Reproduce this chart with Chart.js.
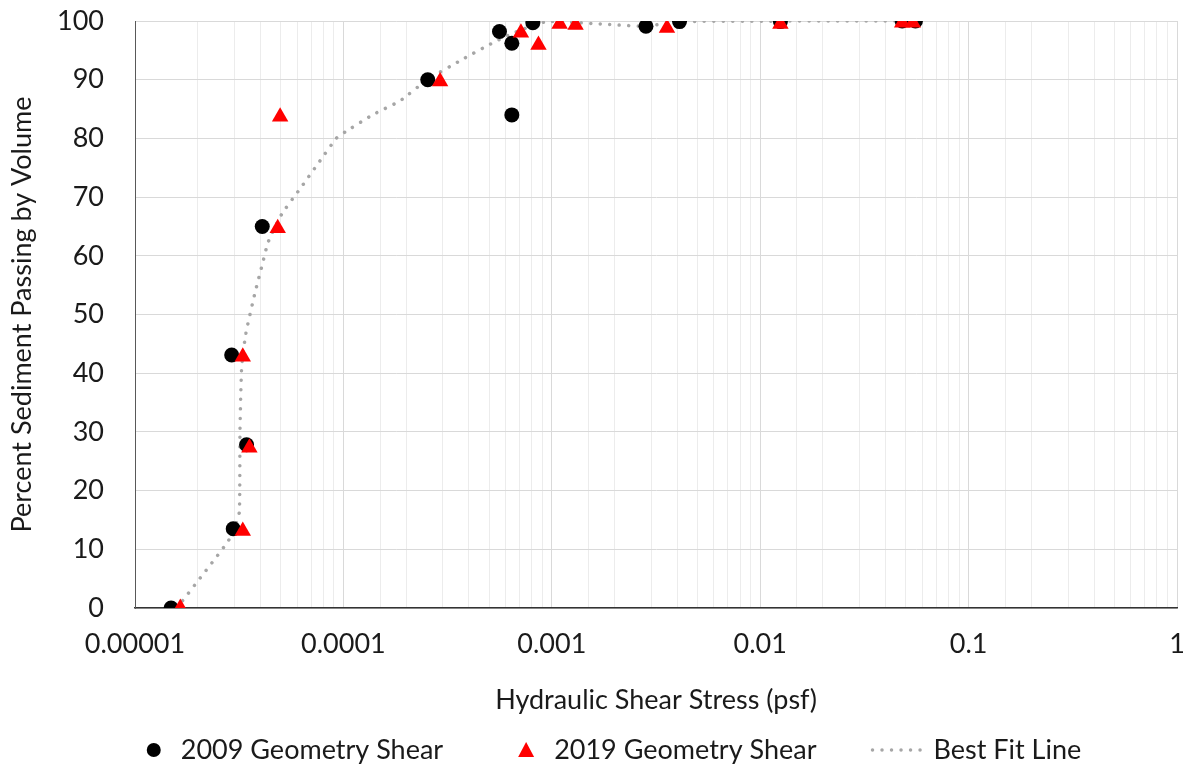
<!DOCTYPE html>
<html>
<head>
<meta charset="utf-8">
<script src="https://cdn.jsdelivr.net/npm/chart.js@4/dist/chart.umd.min.js"></script>
<style>
  html, body { margin: 0; padding: 0; background: #fff; }
</style>
</head>
<body>
<canvas id="chart" width="1188" height="767"></canvas>
<script>
// ! DATA
const xTickValues = [0.00001, 0.0001, 0.001, 0.01, 0.1, 1];
const xTickLabels = ["0.00001", "0.0001", "0.001", "0.01", "0.1", "1"];

const seriesNames = ["2009 Geometry Shear", "2019 Geometry Shear", "Best Fit Line"];

const shear2009 = [
  0.0000149, 0.0000296, 0.0000343, 0.0000291, 0.0000408, 0.000254, 0.000561,
  0.000643, 0.000643, 0.000811, 0.00283, 0.0041, 0.0125, 0.048, 0.0556,
];
const passing2009 = [
  0, 13.5, 27.8, 43.1, 65.0, 90.0, 98.2, 96.2, 84.0, 99.7, 99.1, 99.9, 99.9,
  100, 100,
];

const shear2019 = [
  0.0000165, 0.0000329, 0.0000354, 0.0000329, 0.0000484, 0.0000497, 0.000291,
  0.000711, 0.000863, 0.00109, 0.0013, 0.00357, 0.0125, 0.048, 0.054,
];
const passing2019 = [
  0, 13.1, 27.3, 42.8, 64.7, 83.7, 89.7, 98.0, 95.9, 99.5, 99.3, 98.8, 99.5,
  99.7, 99.7,
];

const fitShear = [
  0.0000159, 0.0000279, 0.0000305, 0.0000317, 0.0000319, 0.0000325, 0.000034,
  0.0000376, 0.000041, 0.0000435, 0.0000506, 0.0000619, 0.0000759, 0.0000929,
  0.000102, 0.000138, 0.000187, 0.000253, 0.00037, 0.000497, 0.000646,
  0.000946, 0.00171, 0.00283, 0.0041, 0.0556,
];
const fitPassing = [
  0, 11.3, 14.3, 16.4, 30.3, 41.1, 46.7, 53.6, 58.8, 62.3, 67.1, 71.4, 75.8,
  80.1, 81.1, 84.0, 86.4, 90.0, 93.4, 95.9, 97.9, 99.9, 99.5, 99.1, 99.9, 100,
];

const toPoints = (xs, ys) => xs.map((x, i) => ({ x: x, y: ys[i] }));

// ! FONTS AND COLOURS
const FONT = "Lato";
const TEXT = "#1a1a1a";
const FIT_GREY = "#a6a6a6";

const isDecade = (v) => Math.abs(Math.log10(v) - Math.round(Math.log10(v))) < 1e-6;

// ! LEGEND (drawn below the axis title)
const bottomLegend = {
  id: "bottomLegend",
  afterDraw(chart) {
    const ctx = chart.ctx;
    const y = 750;
    ctx.save();
    ctx.font = `27px ${FONT}`;
    ctx.fillStyle = TEXT;
    ctx.textBaseline = "middle";

    const w0 = ctx.measureText(seriesNames[0]).width;
    const w1 = ctx.measureText(seriesNames[1]).width;
    const w2 = ctx.measureText(seriesNames[2]).width;
    const total = 14 + 20 + w0 + 75 + 16 + 20 + w1 + 54 + 58 + 5 + w2;
    let x = 614 - total / 2;

    // circle
    ctx.beginPath();
    ctx.arc(x + 7, y, 7, 0, Math.PI * 2);
    ctx.fillStyle = "#000";
    ctx.fill();
    x += 14 + 20;
    ctx.fillStyle = TEXT;
    ctx.fillText(seriesNames[0], x, y);
    x += w0 + 75;

    // triangle
    ctx.beginPath();
    ctx.moveTo(x + 8, y - 8);
    ctx.lineTo(x + 16, y + 7);
    ctx.lineTo(x, y + 7);
    ctx.closePath();
    ctx.fillStyle = "#ff0000";
    ctx.fill();
    x += 16 + 20;
    ctx.fillStyle = TEXT;
    ctx.fillText(seriesNames[1], x, y);
    x += w1 + 54;

    // dotted line
    ctx.beginPath();
    ctx.setLineDash([0.01, 9.5]);
    ctx.lineCap = "round";
    ctx.lineWidth = 3.5;
    ctx.strokeStyle = FIT_GREY;
    ctx.moveTo(x + 2, y);
    ctx.lineTo(x + 58, y);
    ctx.stroke();
    ctx.setLineDash([]);
    x += 58 + 5;
    ctx.fillText(seriesNames[2], x, y);
    ctx.restore();
  },
};

// ! CHART
const chartEl = document.querySelector("#chart").getContext("2d");
new Chart(chartEl, {
  type: "scatter",
  data: {
    datasets: [
      {
        label: seriesNames[1],
        data: toPoints(shear2019, passing2019),
        pointStyle: "triangle",
        pointRadius: 9.5,
        pointHoverRadius: 9.5,
        backgroundColor: "#ff0000",
        borderColor: "#ff0000",
        pointBorderWidth: 0,
        order: 0,
      },
      {
        label: seriesNames[0],
        data: toPoints(shear2009, passing2009),
        pointStyle: "circle",
        pointRadius: 7.5,
        pointHoverRadius: 7.5,
        backgroundColor: "#000000",
        borderColor: "#000000",
        pointBorderWidth: 0,
        order: 1,
      },
      {
        label: seriesNames[2],
        data: toPoints(fitShear, fitPassing),
        showLine: true,
        pointRadius: 0,
        pointHoverRadius: 0,
        borderColor: FIT_GREY,
        borderWidth: 3.5,
        borderDash: [0.01, 9.5],
        borderCapStyle: "round",
        tension: 0.15,
        order: 2,
      },
    ],
  },
  options: {
    responsive: false,
    animation: false,
    events: [],
    devicePixelRatio: 1,
    layout: { padding: { top: 21, right: 11, bottom: 0, left: 0 } },
    plugins: {
      legend: { display: false },
      tooltip: { enabled: false },
    },
    scales: {
      x: {
        type: "logarithmic",
        min: 0.00001,
        max: 1,
        afterFit: (scale) => {
          scale.height = 159;
        },
        border: { color: "#333333", width: 1.5 },
        grid: {
          drawTicks: true,
          tickLength: 20,
          tickColor: "rgba(0,0,0,0)",
          color: (c) => (c.tick && isDecade(c.tick.value) ? "#d9d9d9" : "#ececec"),
          lineWidth: 1,
        },
        ticks: {
          autoSkip: false,
          maxRotation: 0,
          padding: 0,
          color: TEXT,
          font: { family: FONT, size: 27 },
          callback: (value) => {
            const i = xTickValues.findIndex(
              (t) => Math.abs(Math.log10(t) - Math.log10(value)) < 1e-6
            );
            return i >= 0 ? xTickLabels[i] : "";
          },
        },
        title: {
          display: true,
          text: "Hydraulic Shear Stress (psf)",
          color: TEXT,
          font: { family: FONT, size: 27 },
          padding: { top: 0, bottom: 51 },
        },
      },
      y: {
        min: 0,
        max: 100,
        afterFit: (scale) => {
          scale.width = 135;
        },
        border: { color: "#595959", width: 1 },
        grid: {
          drawTicks: true,
          tickLength: 31,
          tickColor: "rgba(0,0,0,0)",
          color: "#d9d9d9",
          lineWidth: 1,
        },
        ticks: {
          stepSize: 10,
          padding: 0,
          color: TEXT,
          font: { family: FONT, size: 27 },
        },
        title: {
          display: true,
          text: "Percent Sediment Passing by Volume",
          color: TEXT,
          font: { family: FONT, size: 27 },
          padding: { top: 6, bottom: 0 },
        },
      },
    },
  },
  plugins: [bottomLegend],
});
</script>
</body>
</html>
